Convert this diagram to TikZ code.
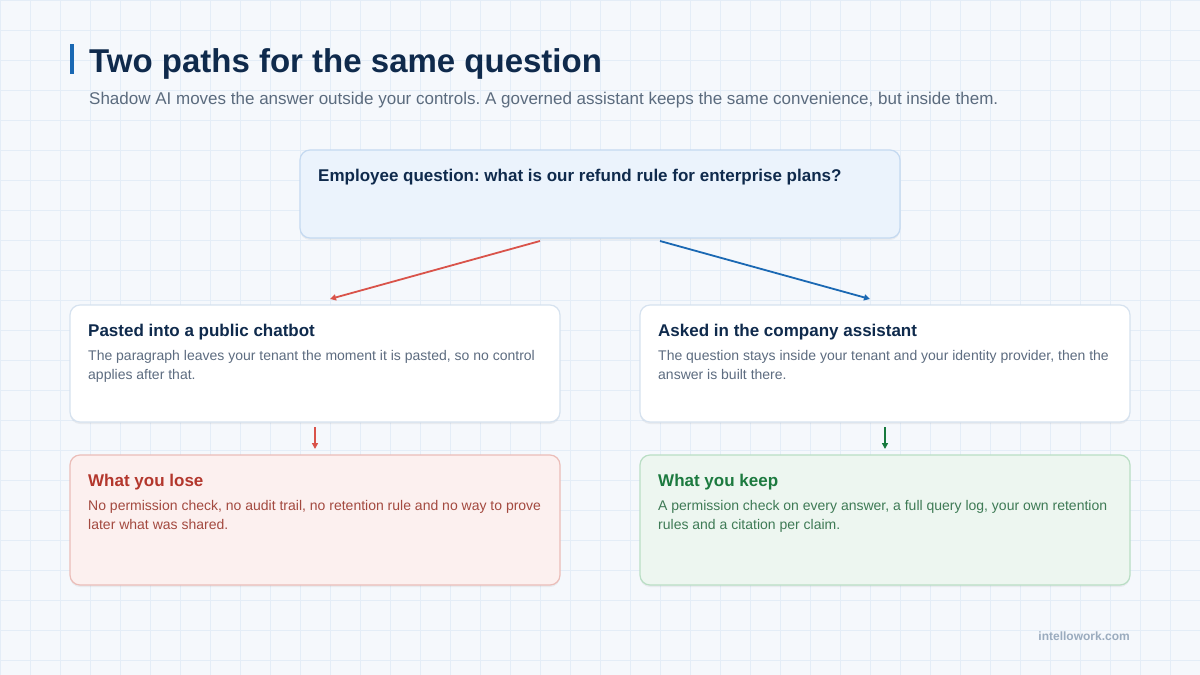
\documentclass[tikz,border=0pt]{standalone}
\usepackage{fontspec}
\setmainfont{Liberation Sans}
\usetikzlibrary{arrows.meta,shadows}
\frenchspacing
\definecolor{bg}{HTML}{F5F8FC}
\definecolor{gridc}{HTML}{E4EDF7}
\definecolor{navy}{HTML}{0F2A4C}
\definecolor{subc}{HTML}{5B6B7E}
\definecolor{accent}{HTML}{1A68B3}
\definecolor{qfill}{HTML}{EBF3FC}
\definecolor{qdraw}{HTML}{C4D9F0}
\definecolor{wdraw}{HTML}{D6E2EF}
\definecolor{bodyc}{HTML}{5D6C80}
\definecolor{redarr}{HTML}{D9534A}
\definecolor{bluearr}{HTML}{1A68B3}
\definecolor{greenarr}{HTML}{17793D}
\definecolor{lfill}{HTML}{FCF0EF}
\definecolor{ldraw}{HTML}{EBBDB8}
\definecolor{ltitle}{HTML}{B3372D}
\definecolor{lbody}{HTML}{A3493F}
\definecolor{kfill}{HTML}{EDF6F0}
\definecolor{kdraw}{HTML}{B9DEC4}
\definecolor{ktitle}{HTML}{1C7A3F}
\definecolor{kbody}{HTML}{3E7A55}
\definecolor{footc}{HTML}{9AABBE}
\tikzset{
  gridline/.style={draw=gridc, line width=0.8pt},
  card/.style={rectangle, rounded corners=10pt, line width=1.2pt, inner sep=0pt, outer sep=0pt, anchor=north west,
    drop shadow={shadow xshift=0pt, shadow yshift=-2pt, opacity=0.05, fill=black}},
  ttl/.style={anchor=base west, inner sep=0pt, font=\fontsize{17}{20}\selectfont\bfseries},
  bodytxt/.style={anchor=base west, inner sep=0pt, font=\fontsize{14}{18}\selectfont},
  conn/.style={line width=1.8pt, -{Triangle[length=6pt,width=6pt]}},
}
\begin{document}
\begin{tikzpicture}[x=1pt,y=-1pt]
\useasboundingbox (0,0) rectangle (1200,675);
\fill[bg] (0,0) rectangle (1200,675);
\foreach \x in {0,30,...,1200} \draw[gridline] (\x,0) -- (\x,675);
\foreach \y in {0,30,...,660} \draw[gridline] (0,\y) -- (1200,\y);

% header
\fill[accent] (70,44) rectangle (74,74);
\node[anchor=base west, inner sep=0pt, text=navy, font=\fontsize{33}{38}\selectfont\bfseries] (title) at (89,72) {Two paths for the same question};
\node[anchor=base west, inner sep=0pt, text=subc, font=\fontsize{17}{20}\selectfont] (subtitle) at (89,104) {Shadow AI moves the answer outside your controls. A governed assistant keeps the same convenience, but inside them.};

% question box
\node[card, fill=qfill, draw=qdraw, minimum width=600pt, minimum height=88pt] (q) at (300,150) {};
\node[ttl, text=navy] (qt) at (318,181) {Employee question: what is our refund rule for enterprise plans?};

% left card
\node[card, fill=white, draw=wdraw, minimum width=490pt, minimum height=117pt] (pl) at (70,305) {};
\node[ttl, text=navy] (plt) at (88,336) {Pasted into a public chatbot};
\node[bodytxt, text=bodyc] (plb1) at (88,360) {The paragraph leaves your tenant the moment it is pasted, so no control};
\node[bodytxt, text=bodyc] (plb2) at (88,379) {applies after that.};

% right card
\node[card, fill=white, draw=wdraw, minimum width=490pt, minimum height=117pt] (pr) at (640,305) {};
\node[ttl, text=navy] (prt) at (658,336) {Asked in the company assistant};
\node[bodytxt, text=bodyc] (prb1) at (658,360) {The question stays inside your tenant and your identity provider, then the};
\node[bodytxt, text=bodyc] (prb2) at (658,379) {answer is built there.};

% lose card
\node[card, fill=lfill, draw=ldraw, minimum width=490pt, minimum height=130pt] (lose) at (70,455) {};
\node[ttl, text=ltitle] (loset) at (88,486) {What you lose};
\node[bodytxt, text=lbody] (loseb1) at (88,510) {No permission check, no audit trail, no retention rule and no way to prove};
\node[bodytxt, text=lbody] (loseb2) at (88,529) {later what was shared.};

% keep card
\node[card, fill=kfill, draw=kdraw, minimum width=490pt, minimum height=130pt] (keep) at (640,455) {};
\node[ttl, text=ktitle] (keept) at (658,486) {What you keep};
\node[bodytxt, text=kbody] (keepb1) at (658,510) {A permission check on every answer, a full query log, your own retention};
\node[bodytxt, text=kbody] (keepb2) at (658,529) {rules and a citation per claim.};

% connectors
\draw[conn, draw=redarr, fill=redarr] ([xshift=-60pt,yshift=-3pt]q.south) -- ([xshift=15pt,yshift=6pt]pl.north);
\draw[conn, draw=bluearr, fill=bluearr] ([xshift=60pt,yshift=-3pt]q.south) -- ([xshift=-15pt,yshift=6pt]pr.north);
\draw[conn, draw=redarr, fill=redarr] ([yshift=-5pt]pl.south) -- ([yshift=6pt]lose.north);
\draw[conn, draw=greenarr, fill=greenarr] ([yshift=-5pt]pr.south) -- ([yshift=6pt]keep.north);

% footer
\node[anchor=base east, inner sep=0pt, text=footc, font=\fontsize{12}{14}\selectfont\bfseries] (foot) at (1130,640) {intellowork.com};
\end{tikzpicture}
\end{document}
